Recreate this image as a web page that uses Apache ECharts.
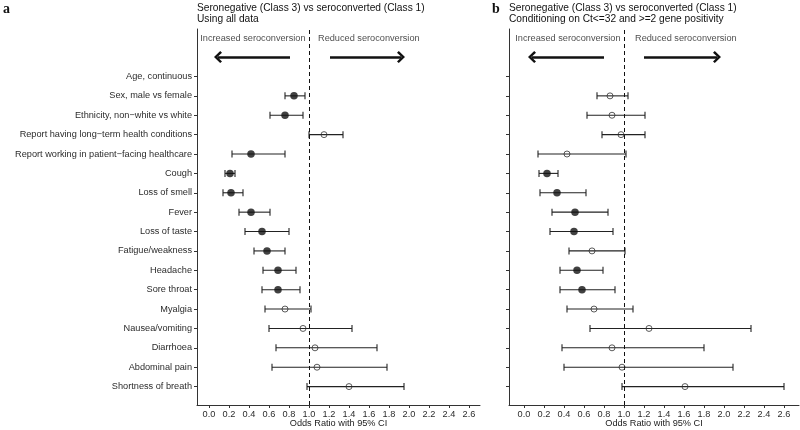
<!DOCTYPE html>
<html>
<head>
<meta charset="utf-8">
<script src="https://cdn.jsdelivr.net/npm/echarts@6/dist/echarts.min.js"></script>
<style>
  html, body { margin: 0; padding: 0; background: #fff; }
  #chart { width: 800px; height: 430px; }
</style>
</head>
<body>
<div id="chart"></div>
<script>
// rows from top to bottom
const rowLabels = [
  'Age, continuous',
  'Sex, male vs female',
  'Ethnicity, non−white vs white',
  'Report having long−term health conditions',
  'Report working in patient−facing healthcare',
  'Cough',
  'Loss of smell',
  'Fever',
  'Loss of taste',
  'Fatigue/weakness',
  'Headache',
  'Sore throat',
  'Myalgia',
  'Nausea/vomiting',
  'Diarrhoea',
  'Abdominal pain',
  'Shortness of breath'
];

// panel a: using all data
const allOR = [null, 0.85, 0.76, 1.15, 0.42, 0.21, 0.22, 0.42, 0.53, 0.58, 0.69, 0.69, 0.76, 0.94, 1.06, 1.08, 1.40];
const allLo = [null, 0.76, 0.61, 1.00, 0.23, 0.16, 0.14, 0.30, 0.36, 0.45, 0.54, 0.53, 0.56, 0.60, 0.67, 0.63, 0.98];
const allHi = [null, 0.96, 0.94, 1.34, 0.76, 0.26, 0.34, 0.61, 0.80, 0.76, 0.87, 0.91, 1.02, 1.43, 1.68, 1.78, 1.95];

// panel b: Ct<=32 and >=2 genes
const ctOR = [null, 0.86, 0.88, 0.97, 0.43, 0.23, 0.33, 0.51, 0.50, 0.68, 0.53, 0.58, 0.70, 1.25, 0.88, 0.98, 1.61];
const ctLo = [null, 0.73, 0.63, 0.78, 0.14, 0.15, 0.16, 0.28, 0.26, 0.45, 0.36, 0.36, 0.43, 0.66, 0.38, 0.40, 0.98];
const ctHi = [null, 1.04, 1.21, 1.21, 1.02, 0.34, 0.62, 0.84, 0.89, 1.01, 0.79, 0.91, 1.09, 2.27, 1.80, 2.09, 2.60];

const xTicks = [0.0, 0.2, 0.4, 0.6, 0.8, 1.0, 1.2, 1.4, 1.6, 1.8, 2.0, 2.2, 2.4, 2.6];
const rowPos = rowLabels.map((_, i) => rowLabels.length - i); // 17 .. 1

// arrows / annotation: [from, to] on the OR scale, row slot above the list
const arrowRow = 18;
const textRow = 18.95;
const leftArrows = [[0.81, 0.09], [1.21, 1.92]];
const rightArrows = [[0.80, 0.08], [1.20, 1.93]];
const leftNotes = [0.965, 1.09];
const rightNotes = [0.965, 1.11];
const noteText = ['Increased seroconversion', 'Reduced seroconversion'];

const font = 'Liberation Sans, Arial, sans-serif';
const txt = '#2b2b2b';
const ink = '#222';

const chevron = 'path://M60,0 L120,62 L104,80 L60,34 L16,80 L0,62 Z';

function errorBars(or, lo, hi, idx) {
  const data = [];
  or.forEach((v, i) => {
    if (v != null) data.push([lo[i], hi[i], rowPos[i]]);
  });
  return {
    type: 'custom',
    xAxisIndex: idx,
    yAxisIndex: idx,
    silent: true,
    encode: { x: [0, 1], y: 2 },
    data: data,
    renderItem: (params, api) => {
      const y = api.value(2);
      const a = api.coord([api.value(0), y]);
      const b = api.coord([api.value(1), y]);
      const h = 3.5;
      const st = { stroke: ink, lineWidth: 1.1 };
      return {
        type: 'group',
        children: [
          { type: 'line', shape: { x1: a[0], y1: a[1], x2: b[0], y2: b[1] }, style: st },
          { type: 'line', shape: { x1: a[0], y1: a[1] - h, x2: a[0], y2: a[1] + h }, style: st },
          { type: 'line', shape: { x1: b[0], y1: b[1] - h, x2: b[0], y2: b[1] + h }, style: st }
        ]
      };
    }
  };
}

function points(or, lo, hi, idx, filled) {
  const data = [];
  or.forEach((v, i) => {
    if (v == null) return;
    const sig = hi[i] < 1 || lo[i] > 1;
    if (sig === filled) data.push([v, rowPos[i]]);
  });
  return {
    type: 'scatter',
    xAxisIndex: idx,
    yAxisIndex: idx,
    silent: true,
    z: 5,
    symbol: 'circle',
    symbolSize: filled ? 7.5 : 6,
    itemStyle: filled
      ? { color: '#111' }
      : { color: 'rgba(0,0,0,0)', borderColor: '#333', borderWidth: 1 },
    data: data
  };
}

function guides(idx, arrows, notes) {
  return {
    type: 'scatter',
    xAxisIndex: idx,
    yAxisIndex: idx,
    silent: true,
    symbolSize: 0,
    data: [
      { value: [notes[0], textRow], label: { position: 'left', formatter: noteText[0] } },
      { value: [notes[1], textRow], label: { position: 'right', formatter: noteText[1] } }
    ],
    label: {
      show: true,
      distance: 0,
      color: '#222',
      fontFamily: font,
      fontSize: 9.2
    },
    markLine: {
      silent: true,
      animation: false,
      symbol: ['none', 'none'],
      label: { show: false },
      data: [
        {
          xAxis: 1,
          lineStyle: { color: '#111', width: 1, type: [4, 3] }
        },
        [
          { coord: [arrows[0][0], arrowRow], symbol: 'none' },
          { coord: [arrows[0][1], arrowRow], symbol: chevron, symbolSize: [12, 8] }
        ],
        [
          { coord: [arrows[1][0], arrowRow], symbol: 'none' },
          { coord: [arrows[1][1], arrowRow], symbol: chevron, symbolSize: [12, 8] }
        ]
      ],
      lineStyle: { color: '#111', width: 2.6, type: 'solid' }
    }
  };
}

function xAxis(idx, min, max) {
  return {
    type: 'value',
    gridIndex: idx,
    min: min,
    max: max,
    name: 'Odds Ratio with 95% CI',
    nameLocation: 'middle',
    nameGap: 14,
    nameMoveOverlap: false,
    nameTextStyle: { color: '#222', fontFamily: font, fontSize: 9.2, verticalAlign: 'top' },
    splitLine: { show: false },
    axisLine: { show: true, onZero: false, lineStyle: { color: '#333', width: 1 } },
    axisTick: { show: true, length: 3, customValues: xTicks, lineStyle: { color: '#333' } },
    axisLabel: {
      customValues: xTicks,
      margin: 5,
      color: txt,
      fontFamily: font,
      fontSize: 9.2,
      formatter: v => v.toFixed(1)
    }
  };
}

function yAxis(idx, showLabels) {
  return {
    type: 'value',
    gridIndex: idx,
    min: 0.05,
    max: 19.45,
    splitLine: { show: false },
    axisLine: { show: true, onZero: false, lineStyle: { color: '#333', width: 1 } },
    axisTick: { show: true, length: 3, customValues: rowPos, lineStyle: { color: '#333' } },
    axisLabel: {
      show: showLabels,
      customValues: rowPos,
      margin: 5,
      color: txt,
      fontFamily: font,
      fontSize: 9.2,
      formatter: v => rowLabels[rowLabels.length - Math.round(v)] || ''
    }
  };
}

const chart = echarts.init(document.getElementById('chart'), null, { renderer: 'canvas' });
chart.setOption({
  animation: false,
  backgroundColor: '#fff',
  title: [
    {
      text: 'a', left: 3, top: 2, padding: 0,
      textStyle: { fontFamily: 'Liberation Serif, serif', fontWeight: 'bold', fontSize: 14, color: '#111' }
    },
    {
      text: 'b', left: 492, top: 2, padding: 0,
      textStyle: { fontFamily: 'Liberation Serif, serif', fontWeight: 'bold', fontSize: 14, color: '#111' }
    },
    {
      text: 'Seronegative (Class 3) vs seroconverted (Class 1)\nUsing all data',
      left: 197, top: 2, padding: 0,
      textStyle: { fontFamily: font, fontWeight: 'normal', fontSize: 10.2, lineHeight: 11.5, color: '#111' }
    },
    {
      text: 'Seronegative (Class 3) vs seroconverted (Class 1)\nConditioning on Ct<=32 and >=2 gene positivity',
      left: 509, top: 2, padding: 0,
      textStyle: { fontFamily: font, fontWeight: 'normal', fontSize: 10.2, lineHeight: 11.5, color: '#111' }
    }
  ],
  grid: [
    { left: 197, top: 29, width: 283, height: 376, outerBoundsMode: 'none', containLabel: false },
    { left: 509, top: 29, width: 290, height: 376, outerBoundsMode: 'none', containLabel: false }
  ],
  xAxis: [xAxis(0, -0.12, 2.71), xAxis(1, -0.15, 2.75)],
  yAxis: [yAxis(0, true), yAxis(1, false)],
  series: [
    guides(0, leftArrows, leftNotes),
    errorBars(allOR, allLo, allHi, 0),
    points(allOR, allLo, allHi, 0, true),
    points(allOR, allLo, allHi, 0, false),
    guides(1, rightArrows, rightNotes),
    errorBars(ctOR, ctLo, ctHi, 1),
    points(ctOR, ctLo, ctHi, 1, true),
    points(ctOR, ctLo, ctHi, 1, false)
  ]
});
</script>
</body>
</html>
